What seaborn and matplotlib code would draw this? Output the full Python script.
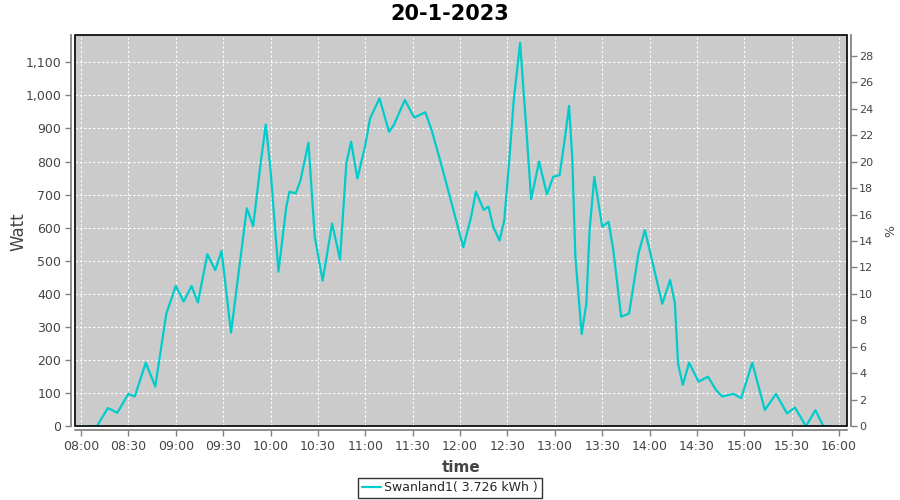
import pandas as pd
import numpy as np
import matplotlib
matplotlib.use("Agg")
import matplotlib.pyplot as plt
import matplotlib.dates as mdates
from matplotlib.patches import Rectangle
import seaborn as sns

# Chart data
DAY = "2023-01-20"
TIMES = [
    "08:04", "08:10", "08:17", "08:23", "08:30", "08:34", "08:41", "08:47", "08:54",
    "09:00", "09:05", "09:10", "09:14", "09:20", "09:25", "09:29", "09:35", "09:40",
    "09:45", "09:49", "09:54", "09:57", "10:00", "10:05", "10:10", "10:12", "10:16",
    "10:19", "10:24", "10:28", "10:33", "10:39", "10:44", "10:48", "10:51", "10:55",
    "11:00", "11:03", "11:09", "11:15", "11:18", "11:25", "11:31", "11:38", "11:42",
    "11:47", "11:53", "12:02", "12:07", "12:10", "12:15", "12:18", "12:21", "12:25",
    "12:28", "12:31", "12:34", "12:38", "12:42", "12:45", "12:50", "12:55", "12:59",
    "13:03", "13:06", "13:09", "13:11", "13:13", "13:17", "13:20", "13:22", "13:25",
    "13:30", "13:34", "13:37", "13:42", "13:47", "13:53", "13:57", "14:02", "14:08",
    "14:13", "14:16", "14:18", "14:21", "14:25", "14:31", "14:37", "14:42", "14:46",
    "14:53", "14:58", "15:05", "15:13", "15:20", "15:27", "15:32", "15:39", "15:45",
    "15:50", "15:55",
]
WATT = [
    0, 0, 55, 41, 98, 90, 192, 120, 340,
    424, 377, 424, 374, 520, 472, 530, 283, 472,
    659, 605, 805, 912, 775, 467, 664, 709, 704,
    744, 857, 573, 440, 613, 504, 795, 860, 749,
    850, 930, 991, 890, 910, 986, 933, 949, 895,
    810, 704, 541, 633, 709, 654, 664, 603, 561,
    623, 795, 986, 1159, 895, 686, 800, 701, 754,
    759, 858, 968, 815, 513, 279, 372, 593, 754,
    603, 618, 533, 331, 341, 523, 593, 493, 370,
    442, 372, 190, 125, 192, 135, 150, 110, 90,
    98, 85, 192, 49, 98, 39, 57, 0, 49,
    0, 0,
]
SERIES = "Swanland1( 3.726 kWh )"
TITLE = "20-1-2023"
PEAK_W = 4000  # right axis: % of 4000 W

df = pd.DataFrame({"time": pd.to_datetime([f"{DAY} {t}" for t in TIMES]), "Watt": WATT})

sns.set_theme(style="white")
plt.rcParams["font.family"] = ["DejaVu Sans"]

fig = plt.figure(figsize=(9, 5), dpi=100)
ax = fig.add_axes([75 / 900, 1 - 426.3 / 500, 771.5 / 900, 391 / 500])
ax.set_facecolor("#cbcbcb")

sns.lineplot(data=df, x="time", y="Watt", ax=ax, color="#00cccc", linewidth=1.6,
             label=SERIES, legend=False)

x0 = pd.Timestamp(f"{DAY} 07:56:12")
x1 = pd.Timestamp(f"{DAY} 16:04:40")
ax.set_xlim(x0, x1)
ax.set_ylim(0, 1181.6)
ax.xaxis.set_major_locator(mdates.MinuteLocator(byminute=[0, 30]))
ax.xaxis.set_major_formatter(mdates.DateFormatter("%H:%M"))
ax.yaxis.set_major_locator(plt.MultipleLocator(100))
ax.yaxis.set_major_formatter(matplotlib.ticker.FuncFormatter(lambda v, p: f"{int(v):,}"))

ax.grid(True, color="white", linestyle=(0, (2, 2)), linewidth=0.8)

for side in ["top", "right", "left", "bottom"]:
    ax.spines[side].set_visible(False)
for side in ["left", "bottom"]:
    ax.spines[side].set_visible(True)
    ax.spines[side].set_position(("outward", 3))
    ax.spines[side].set_color("#808080")
ax.tick_params(axis="both", direction="out", length=4, width=1, color="#808080",
               labelsize=9, labelcolor="#444444", pad=3)
ax.tick_params(axis="x", bottom=True)
ax.tick_params(axis="y", left=True)

# black frame around the plot area
ax.add_patch(Rectangle((0, 0), 1, 1, transform=ax.transAxes, fill=False,
                       edgecolor="black", linewidth=1.2, zorder=5, clip_on=False))

ax.set_xlabel("time", fontsize=11, fontweight="bold", color="#444444", labelpad=5)
ax.set_ylabel("Watt", fontsize=12, color="#444444")
ax.yaxis.set_label_coords(27 / 900, 1 - 232 / 500, transform=fig.transFigure)

ax2 = ax.twinx()
ax2.set_ylim(0, 1181.6 / PEAK_W * 100)
ax2.yaxis.set_major_locator(plt.MultipleLocator(2))
for side in ["top", "left", "bottom"]:
    ax2.spines[side].set_visible(False)
ax2.spines["right"].set_position(("outward", 3))
ax2.spines["right"].set_color("#808080")
ax2.tick_params(axis="y", direction="out", length=4, width=1, color="#808080",
                labelsize=8, labelcolor="#444444", pad=2, right=True)
ax2.set_ylabel("%", fontsize=9, color="#444444", labelpad=8)
ax2.grid(False)

fig.suptitle(TITLE, x=0.5, y=1 - 14 / 500, va="center", fontsize=15,
             fontweight="bold", color="black")

handles, labels = ax.get_legend_handles_labels()
leg = fig.legend(handles, labels, loc="center", bbox_to_anchor=(0.5, 1 - 488 / 500),
                 fontsize=9, frameon=True, fancybox=False, handlelength=1.5,
                 handletextpad=0.3, borderpad=0.3)
leg.get_frame().set_edgecolor("black")
leg.get_frame().set_linewidth(1)

fig.savefig("out.png", dpi=100, facecolor="white")
